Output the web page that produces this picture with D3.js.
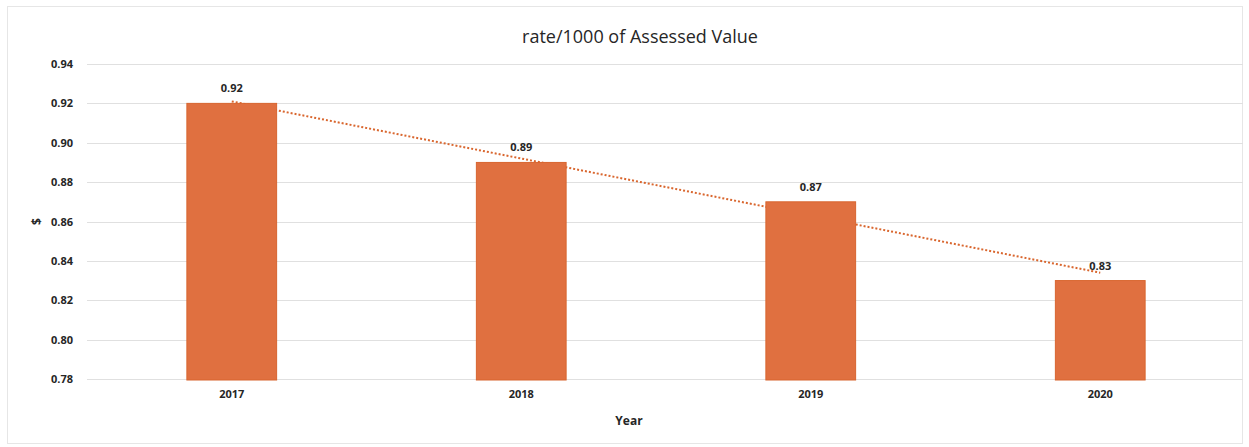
<!DOCTYPE html>
<html>
<head>
<meta charset="utf-8">
<script src="https://cdn.jsdelivr.net/npm/d3@7"></script>
<style>
  html, body { margin: 0; padding: 0; background: #fff; }
  svg { display: block; }
  text { font-family: "Open Sans", "Liberation Sans", sans-serif; fill: #262626; }
</style>
</head>
<body>
<svg id="chart" width="1249" height="447"></svg>
<script>
// Levy rate per $1000 of assessed value, by year
const years = ["2017", "2018", "2019", "2020"];
const rates = [0.92, 0.89, 0.87, 0.83];
const yTicks = [0.78, 0.80, 0.82, 0.84, 0.86, 0.88, 0.90, 0.92, 0.94];

const svg = d3.select("#chart");
const W = 1249, H = 447;
const margin = { top: 64, right: 4, bottom: 68, left: 87 };

// faint frame around the chart area
svg.append("rect")
  .attr("x", 7.5).attr("y", 6.5)
  .attr("width", W - 14).attr("height", H - 10)
  .attr("fill", "none").attr("stroke", "#e6e6e6").attr("stroke-width", 1);

const x = d3.scaleBand()
  .domain(years)
  .range([margin.left, W - margin.right])
  .paddingInner(0.69)
  .paddingOuter(0.345);

const y = d3.scaleLinear()
  .domain([0.78, 0.94])
  .range([H - margin.bottom, margin.top]);

// horizontal gridlines
svg.append("g")
  .selectAll("line")
  .data(yTicks)
  .join("line")
  .attr("x1", margin.left).attr("x2", W - 6)
  .attr("y1", d => Math.round(y(d)) + 0.5)
  .attr("y2", d => Math.round(y(d)) + 0.5)
  .attr("stroke", "#e0e0e0").attr("stroke-width", 1);

// y axis labels
const yAxis = d3.axisLeft(y).tickValues(yTicks).tickFormat(d3.format(".2f")).tickSize(0).tickPadding(14);
svg.append("g")
  .attr("transform", `translate(${margin.left},0)`)
  .call(yAxis)
  .call(g => g.select(".domain").remove())
  .call(g => g.selectAll("text")
    .style("font-family", "'Open Sans', sans-serif")
    .style("font-size", "11px").style("font-weight", "bold").attr("fill", "#262626"));

// linear trendline fitted to the rates (sits behind the bars)
const n = rates.length;
const xm = d3.mean(rates, (d, i) => i);
const ym = d3.mean(rates);
const slope = d3.sum(rates, (d, i) => (i - xm) * (d - ym)) / d3.sum(rates, (d, i) => (i - xm) ** 2);
const icpt = ym - slope * xm;
const cx = i => x(years[i]) + x.bandwidth() / 2;
svg.append("line")
  .attr("x1", cx(0)).attr("y1", y(icpt))
  .attr("x2", cx(n - 1)).attr("y2", y(icpt + slope * (n - 1)))
  .attr("stroke", "#D9662E").attr("stroke-width", 2)
  .attr("stroke-dasharray", "2,2");

// bars
svg.append("g")
  .selectAll("rect")
  .data(rates)
  .join("rect")
  .attr("x", (d, i) => x(years[i]))
  .attr("width", x.bandwidth())
  .attr("y", d => y(d))
  .attr("height", d => y(0.78) - y(d) + 1)
  .attr("fill", "#E07040")
  .attr("stroke", "#D8652F").attr("stroke-width", 1);

// value labels above bars
svg.append("g")
  .selectAll("text")
  .data(rates)
  .join("text")
  .attr("x", (d, i) => cx(i))
  .attr("y", d => y(d) - 11)
  .attr("text-anchor", "middle")
  .style("font-size", "11px").style("font-weight", "bold")
  .text(d => d3.format(".2f")(d));

// x axis labels
const xAxis = d3.axisBottom(x).tickSize(0).tickPadding(11);
svg.append("g")
  .attr("transform", `translate(0,${y(0.78)})`)
  .call(xAxis)
  .call(g => g.select(".domain").remove())
  .call(g => g.selectAll("text")
    .style("font-family", "'Open Sans', sans-serif")
    .style("font-size", "11px").style("font-weight", "bold").attr("fill", "#262626"));

// axis titles
svg.append("text")
  .attr("x", 629).attr("y", 425)
  .attr("text-anchor", "middle")
  .style("font-size", "12px").style("font-weight", "bold")
  .text("Year");

svg.append("text")
  .attr("transform", `translate(38,${y(0.86)}) rotate(-90)`)
  .attr("text-anchor", "middle")
  .attr("dominant-baseline", "middle")
  .style("font-size", "12px").style("font-weight", "bold")
  .text("$");

// chart title
svg.append("text")
  .attr("x", 640).attr("y", 43)
  .attr("text-anchor", "middle")
  .style("font-size", "18px")
  .text("rate/1000 of Assessed Value");
</script>
</body>
</html>
